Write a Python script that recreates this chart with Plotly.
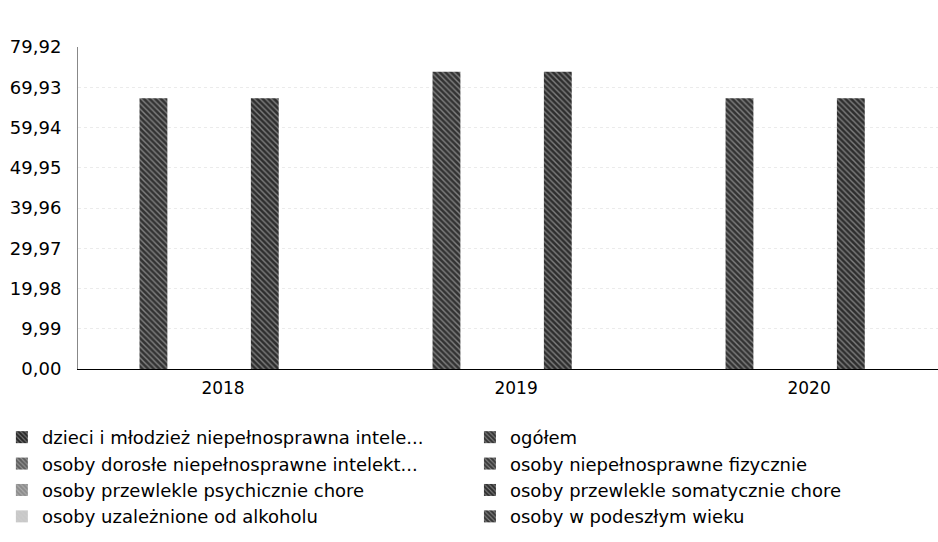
import plotly.graph_objects as go

# dane
years = ["2018", "2019", "2020"]
series_names = [
    "dzieci i młodzież niepełnosprawna intele...",
    "ogółem",
    "osoby dorosłe niepełnosprawne intelekt...",
    "osoby niepełnosprawne fizycznie",
    "osoby przewlekle psychicznie chore",
    "osoby przewlekle somatycznie chore",
    "osoby uzależnione od alkoholu",
    "osoby w podeszłym wieku",
]
dzieci = [0, 0, 0]
ogolem = [67.2, 73.8, 67.2]
dorosle = [0, 0, 0]
fizycznie = [0, 0, 0]
psychicznie = [0, 0, 0]
somatycznie = [67.2, 73.8, 67.2]
alkohol = [0, 0, 0]
podeszly = [0, 0, 0]

y_ticks = [0, 9.99, 19.98, 29.97, 39.96, 49.95, 59.94, 69.93, 79.92]
y_tick_labels = ["0,00", "9,99", "19,98", "29,97", "39,96", "49,95", "59,94", "69,93", "79,92"]

all_values = [dzieci, ogolem, dorosle, fizycznie, psychicznie, somatycznie, alkohol, podeszly]
colors = ["#262626", "#333333", "#5e5e5e", "#3a3a3a", "#8c8c8c", "#2e2e2e", "#c8c8c8", "#363636"]

FONT = "DejaVu Sans"

fig = go.Figure()
for i, (name, vals, col) in enumerate(zip(series_names, all_values, colors)):
    # legenda w dwóch kolumnach, kolejność wierszami
    fig.add_trace(go.Bar(
        x=years,
        y=vals,
        name=name,
        legend="legend" if i % 2 == 0 else "legend2",
        marker=dict(
            color=col,
            line=dict(width=0),
            pattern=dict(shape="\\", fgcolor="#d0d0d0", size=4, solidity=0.35),
        ),
    ))

legend_common = dict(
    orientation="v",
    xref="container",
    yref="container",
    y=0.227,
    xanchor="left",
    yanchor="top",
    tracegroupgap=0,
    font=dict(family=FONT, size=18, color="black"),
    traceorder="normal",
    bgcolor="rgba(0,0,0,0)",
)

fig.update_layout(
    width=938,
    height=542,
    paper_bgcolor="white",
    plot_bgcolor="white",
    barmode="group",
    bargap=0.24,
    bargroupgap=0,
    margin=dict(l=78, r=0, t=47, b=173, autoexpand=False),
    font=dict(family=FONT, size=18, color="black"),
    showlegend=True,
    legend=dict(x=0.002, **legend_common),
    legend2=dict(x=0.501, **legend_common),
)

fig.update_xaxes(
    type="category",
    range=[-0.495, 2.44],
    showline=True,
    linecolor="black",
    linewidth=1,
    showgrid=False,
    ticks="",
    ticklabelstandoff=4,
    tickfont=dict(family=FONT, size=17, color="black"),
)

fig.update_yaxes(
    range=[0, 79.92],
    tickvals=y_ticks,
    ticktext=y_tick_labels,
    showline=True,
    linecolor="#888888",
    linewidth=1,
    showgrid=True,
    gridcolor="#ebebeb",
    griddash="dot",
    zeroline=False,
    ticks="",
    ticklabelstandoff=12,
    tickfont=dict(family=FONT, size=18, color="black"),
)

fig.write_html(
    "out.html",
    config={"displayModeBar": False},
    post_script="document.body.style.margin = '0';",
)
